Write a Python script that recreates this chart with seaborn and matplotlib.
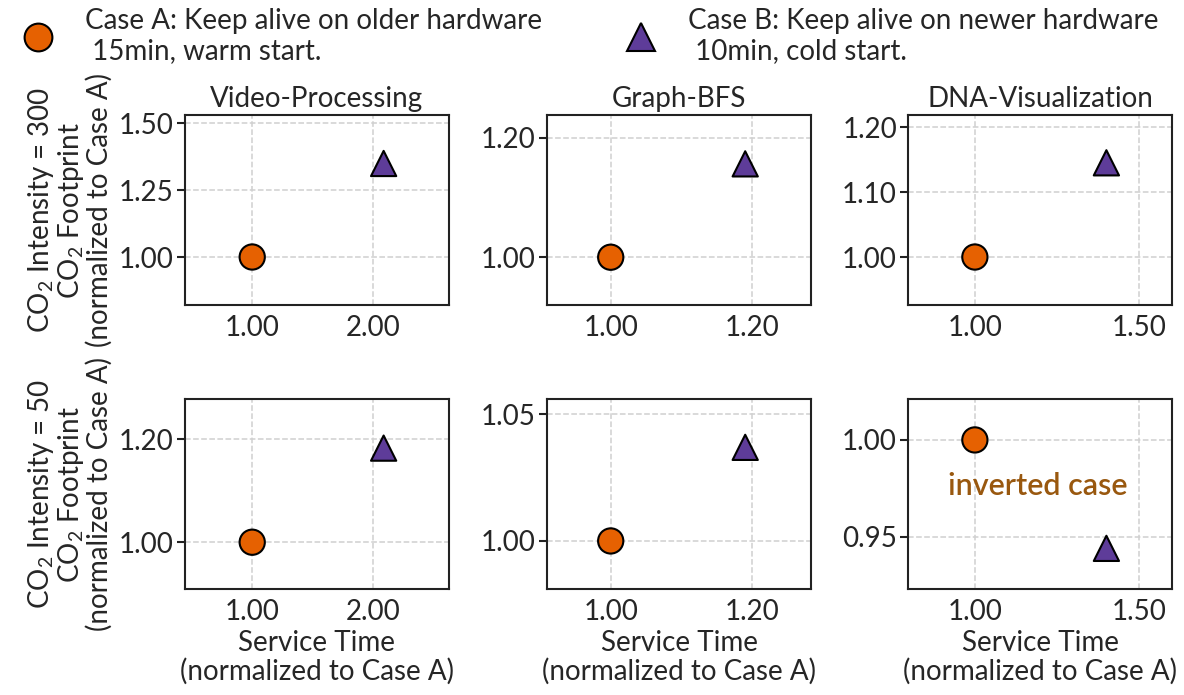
import seaborn as sns
import matplotlib.pyplot as plt
from matplotlib.lines import Line2D
import pandas as pd

# dados (Case A = referência 1.0)
apps = ["Video-Processing", "Graph-BFS", "DNA-Visualization"]
casos = ["Case A: Keep alive on older hardware\n 15min, warm start.",
         "Case B: Keep alive on newer hardware\n 10min, cold start."]
intensidades = [300, 50]
tempo_a = [1.00, 1.00, 1.00]
tempo_b = [2.09, 1.19, 1.40]
co2_a = {300: [1.00, 1.00, 1.00], 50: [1.00, 1.00, 1.00]}
co2_b = {300: [1.35, 1.156, 1.145], 50: [1.183, 1.037, 0.944]}

xticks = [[1.0, 2.0], [1.0, 1.2], [1.0, 1.5]]
yticks = {300: [[1.0, 1.25, 1.5], [1.0, 1.2], [1.0, 1.1, 1.2]],
          50: [[1.0, 1.2], [1.0, 1.05], [0.95, 1.0]]}
xlims = [(0.44, 2.63), (0.91, 1.283), (0.797, 1.6)]
ylims = {300: [(0.82, 1.53), (0.92, 1.237), (0.926, 1.218)],
         50: [(0.909, 1.278), (0.981, 1.056), (0.923, 1.021)]}

laranja = "#e66101"
roxo = "#5e3c99"
fs = 20

sns.set_theme(style="ticks")
plt.rcParams["font.family"] = ["Lato", "DejaVu Sans"]
plt.rcParams["mathtext.fontset"] = "custom"
plt.rcParams["mathtext.rm"] = "Lato"
plt.rcParams["font.size"] = fs

fig = plt.figure(figsize=(11.84, 6.95), dpi=100)
lefts = [0.156, 0.462, 0.767]
bottoms = [0.561, 0.1525]

for r, ci in enumerate(intensidades):
    for c, app in enumerate(apps):
        ax = fig.add_axes([lefts[c], bottoms[r], 0.223, 0.273])
        df = pd.DataFrame({
            "tempo": [tempo_a[c], tempo_b[c]],
            "co2": [co2_a[ci][c], co2_b[ci][c]],
            "caso": casos,
        })
        sns.scatterplot(data=df, x="tempo", y="co2", hue="caso", style="caso",
                        markers=["o", "^"], palette=[laranja, roxo], s=330,
                        edgecolor="black", linewidth=1.5, legend=False,
                        zorder=3, ax=ax)
        ax.set_xlim(xlims[c])
        ax.set_ylim(ylims[ci][c])
        ax.set_xticks(xticks[c])
        ax.set_yticks(yticks[ci][c])
        ax.set_xticklabels([f"{v:.2f}" for v in xticks[c]], fontsize=fs)
        ax.set_yticklabels([f"{v:.2f}" for v in yticks[ci][c]], fontsize=fs)
        ax.tick_params(axis="x", length=0, pad=7)
        ax.tick_params(axis="y", length=6, width=1.5, color="#222222", pad=2)
        ax.grid(True, linestyle="--", color="#d0d0d0", linewidth=1.1)
        ax.set_axisbelow(True)
        for sp in ax.spines.values():
            sp.set_linewidth(1.5)
            sp.set_color("#222222")
        if r == 0:
            ax.set_title(app, fontsize=fs, pad=6)
            ax.set_xlabel("")
        else:
            ax.set_xlabel("Service Time\n(normalized to Case A)", fontsize=fs,
                          linespacing=1.05, labelpad=4)
        if c == 0:
            ax.set_ylabel(f"CO$_{{\\mathregular{{2}}}}$ Intensity = {ci}\n"
                          "CO$_{\\mathregular{2}}$ Footprint\n"
                          "(normalized to Case A)", fontsize=fs, linespacing=1.0)
            ax.yaxis.set_label_coords(-0.273, 0.5)
        else:
            ax.set_ylabel("")
        if r == 1 and c == 2:
            ax.text(1.19, 0.976, "inverted case", color="#99580f", fontsize=22,
                    ha="center", va="center", fontweight="semibold")

# legenda em duas partes no topo
h_a = Line2D([], [], marker="o", linestyle="", markersize=20,
             markerfacecolor=laranja, markeredgecolor="black", markeredgewidth=1.5)
h_b = Line2D([], [], marker="^", linestyle="", markersize=20,
             markerfacecolor=roxo, markeredgecolor="black", markeredgewidth=1.5)
for h, lab, x0 in [(h_a, casos[0], 0.005), (h_b, casos[1], 0.514)]:
    fig.legend([h], [lab], loc="upper left", bbox_to_anchor=(x0, 1.008),
               frameon=False, fontsize=fs, borderpad=0.0, handlelength=1.3,
               handletextpad=1.05, labelspacing=0, handleheight=0.7)

plt.savefig("out.png", dpi=100)
